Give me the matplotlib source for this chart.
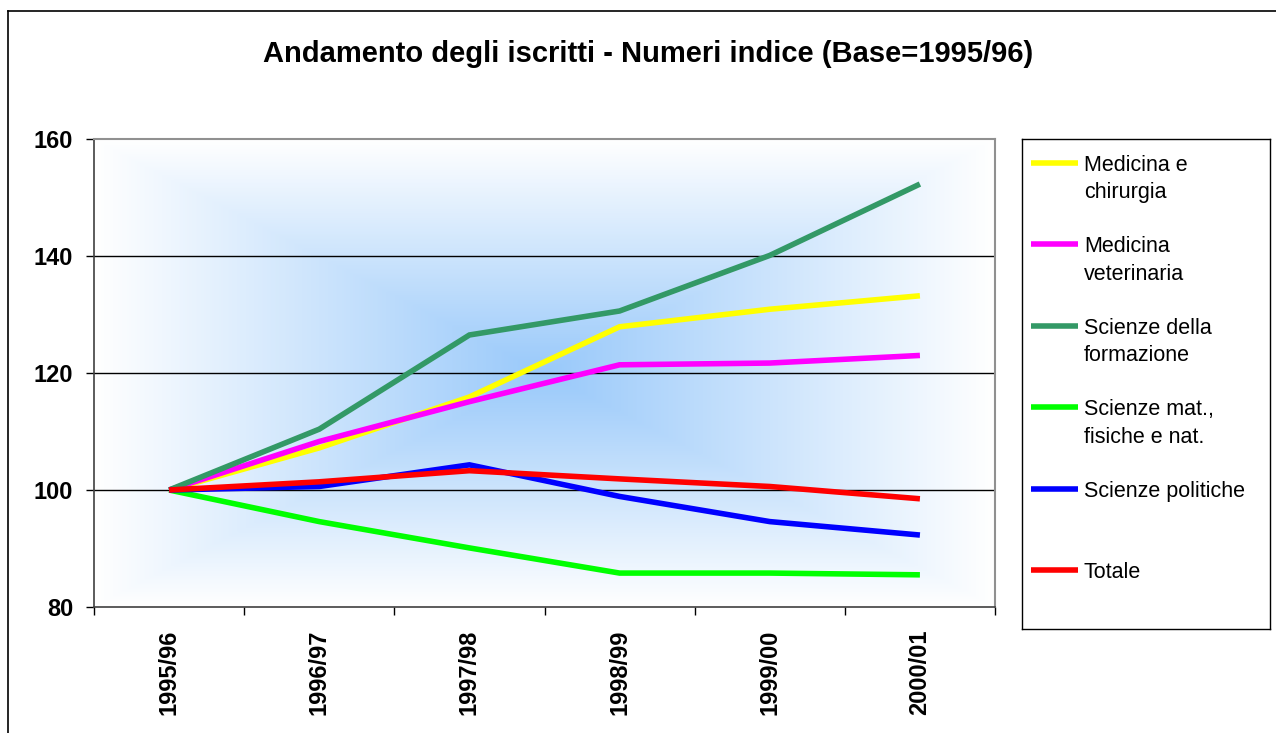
import numpy as np
import matplotlib
matplotlib.use("Agg")
import matplotlib.pyplot as plt
from matplotlib.lines import Line2D
from matplotlib.colors import LinearSegmentedColormap

plt.rcParams['font.family'] = ['Liberation Sans', 'DejaVu Sans']

categories = ["1995/96", "1996/97", "1997/98", "1998/99", "1999/00", "2000/01"]
series_names = ["Medicina e\nchirurgia", "Medicina\nveterinaria", "Scienze della\nformazione",
                "Scienze mat.,\nfisiche e nat.", "Scienze politiche", "Totale"]
medicina = [100, 107.2, 115.9, 127.9, 130.9, 133.2]
veterinaria = [100, 108.3, 115.1, 121.4, 121.7, 123.0]
formazione = [100, 110.4, 126.5, 130.6, 140.1, 152.3]
scienze_mfn = [100, 94.6, 90.1, 85.8, 85.8, 85.5]
politiche = [100, 100.6, 104.3, 98.9, 94.6, 92.3]
totale = [100, 101.4, 103.3, 101.9, 100.6, 98.5]
series_values = [medicina, veterinaria, formazione, scienze_mfn, politiche, totale]
colors = ["#FFFF00", "#FF00FF", "#339966", "#00FF00", "#0000FF", "#FF0000"]
yticks = [80, 100, 120, 140, 160]

W, H = 1276, 733
fig = plt.figure(figsize=(W / 100, H / 100), dpi=100)

def fx(px):
    return px / W

def fy(py):
    return 1 - py / H

# figure border (top and left)
fig.add_artist(Line2D([fx(8), 1], [fy(11), fy(11)], color="black", lw=1.2))
fig.add_artist(Line2D([fx(8), fx(8)], [fy(11), 0], color="black", lw=1.2))

L, R, T, B = 94, 995, 139, 607
ax = fig.add_axes([fx(L), fy(B), fx(R - L), (B - T) / H])

# gradient background (rectangular, from centre)
nx, ny = 400, 240
xs = np.linspace(-1, 1, nx)
ys = np.linspace(-1, 1, ny)
XX, YY = np.meshgrid(xs, ys)
D = np.maximum(np.abs(XX), np.abs(YY))
cmap = LinearSegmentedColormap.from_list("bg", ["#99C9FA", "#FFFFFF"])
ax.imshow(D, cmap=cmap, extent=(-0.5, 5.5, 80, 160), aspect="auto",
          origin="lower", zorder=0, interpolation="bilinear", vmin=0, vmax=1)

x = np.arange(len(categories))
for vals, c in zip(series_values, colors):
    ax.plot(x, vals, color=c, lw=4.0, solid_capstyle="butt", solid_joinstyle="miter", zorder=3)

ax.set_xlim(-0.5, 5.5)
ax.set_ylim(80, 160)
ax.set_yticks(yticks)
ax.set_yticklabels([str(v) for v in yticks], fontsize=17, fontweight="bold")
for v in yticks[1:-1]:
    ax.axhline(v, color="black", lw=1.0, zorder=1)

ax.set_xticks(x)
ax.set_xticklabels(categories, rotation=90, fontsize=17, fontweight="bold", va="top")
ax.set_xticks(np.arange(-0.5, 6.0, 1.0), minor=True)
ax.tick_params(axis="x", which="major", length=0, pad=16)
ax.tick_params(axis="x", which="minor", length=6, width=1, direction="out", color="black")
ax.tick_params(axis="y", length=6, width=1, direction="out", pad=9, color="black")

for s in ["left", "bottom"]:
    ax.spines[s].set_color("#404040")
    ax.spines[s].set_linewidth(1.2)
for s in ["top", "right"]:
    ax.spines[s].set_color("#909090")
    ax.spines[s].set_linewidth(1.5)

# title
fig.text(fx(648), fy(54), "Andamento degli iscritti - Numeri indice (Base=1995/96)",
         ha="center", va="center", fontsize=21, fontweight="bold")

# legend panel
LL, LR, LT, LB = 1022, 1270, 139, 629
lax = fig.add_axes([fx(LL), fy(LB), fx(LR - LL), (LB - LT) / H])
lax.set_xlim(LL, LR)
lax.set_ylim(LB, LT)
lax.set_xticks([])
lax.set_yticks([])
for s in lax.spines.values():
    s.set_color("black")
    s.set_linewidth(1.0)
entry_y0, entry_dy = 163, 81.4
for i, (name, c) in enumerate(zip(series_names, colors)):
    yy = entry_y0 + i * entry_dy
    lax.plot([1031, 1078], [yy, yy], color=c, lw=4.0, solid_capstyle="butt")
    lax.text(1084, yy - 8, name, ha="left", va="top", fontsize=15.5, linespacing=1.4)

fig.savefig("out.png", dpi=100)
